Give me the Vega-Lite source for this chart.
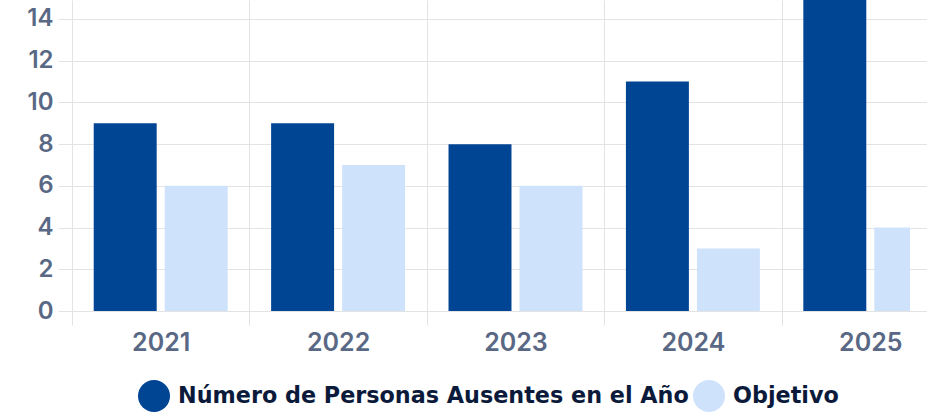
{
  "$schema": "https://vega.github.io/schema/vega-lite/v6.json",
  "width": 838,
  "height": 311,
  "autosize": "none",
  "padding": {"left": 72, "top": 0, "right": 17, "bottom": 102},
  "background": "white",
  "config": {"view": {"stroke": null}, "font": "Inter"},
  "data": {
    "values": [
      {"anio": "2021", "serie": "Número de Personas Ausentes en el Año", "valor": 9},
      {"anio": "2021", "serie": "Objetivo", "valor": 6},
      {"anio": "2022", "serie": "Número de Personas Ausentes en el Año", "valor": 9},
      {"anio": "2022", "serie": "Objetivo", "valor": 7},
      {"anio": "2023", "serie": "Número de Personas Ausentes en el Año", "valor": 8},
      {"anio": "2023", "serie": "Objetivo", "valor": 6},
      {"anio": "2024", "serie": "Número de Personas Ausentes en el Año", "valor": 11},
      {"anio": "2024", "serie": "Objetivo", "valor": 3},
      {"anio": "2025", "serie": "Número de Personas Ausentes en el Año", "valor": 15},
      {"anio": "2025", "serie": "Objetivo", "valor": 4}
    ]
  },
  "mark": {"type": "bar", "clip": true},
  "encoding": {
    "x": {
      "field": "anio",
      "type": "nominal",
      "scale": {"range": [0, 887], "paddingInner": 0, "paddingOuter": 0},
      "axis": {
        "title": null,
        "labelAngle": 0,
        "tickBand": "extent",
        "domain": false,
        "grid": true,
        "gridColor": "#e3e3e3",
        "tickColor": "#e3e3e3",
        "tickSize": 14,
        "labelFontSize": 25,
        "labelFont": "Inter",
        "labelFontWeight": 600,
        "labelColor": "#596884",
        "labelPadding": 5
      }
    },
    "xOffset": {
      "field": "serie",
      "type": "nominal",
      "scale": {"paddingInner": 0.113, "paddingOuter": 0.306}
    },
    "y": {
      "field": "valor",
      "type": "quantitative",
      "scale": {"domain": [0, 14.91], "nice": false},
      "axis": {
        "title": null,
        "values": [0, 2, 4, 6, 8, 10, 12, 14],
        "domain": false,
        "grid": true,
        "gridColor": "#e3e3e3",
        "tickColor": "#e3e3e3",
        "tickSize": 14,
        "labelFontSize": 24,
        "labelFont": "Inter",
        "labelFontWeight": 600,
        "labelColor": "#596884",
        "labelPadding": 5
      }
    },
    "color": {
      "field": "serie",
      "type": "nominal",
      "scale": {
        "domain": ["Número de Personas Ausentes en el Año", "Objetivo"],
        "range": ["#004494", "#cfe2fc"]
      },
      "legend": {
        "title": null,
        "orient": "none",
        "legendX": 66,
        "legendY": 380,
        "direction": "horizontal",
        "symbolType": "circle",
        "symbolSize": 1024,
        "symbolStrokeWidth": 0,
        "labelFont": "DejaVu Sans",
        "labelFontSize": 22.3,
        "labelFontWeight": "bold",
        "labelColor": "#0b1a3a",
        "labelLimit": 1000,
        "labelOffset": 8,
        "columnPadding": 4,
        "padding": 0
      }
    }
  }
}
